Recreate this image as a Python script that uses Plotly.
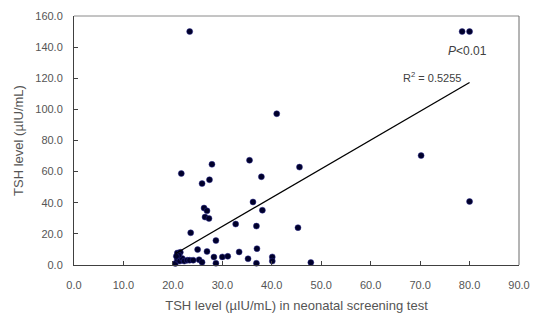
import plotly.graph_objects as go
import numpy as np

# TSH in neonatal screening test (x) vs. follow-up TSH level (y), µIU/mL
screening_tsh = [
    23.4, 78.5, 80.0, 80.0, 70.2, 41.0,
    21.7, 27.9, 25.9, 27.4, 35.5, 37.9, 45.6, 36.2,
    26.3, 26.9, 26.5, 27.3, 38.1, 23.6, 32.7, 36.9, 45.3, 28.7,
    20.9, 21.5, 25.0, 26.9, 28.3, 30.0, 31.1, 33.4, 35.2, 37.0,
    40.1, 40.1, 36.9, 28.7, 47.9, 25.3, 25.9,
    20.5, 20.9, 21.4, 21.9, 22.3, 22.9, 23.4, 24.1, 21.2, 20.7,
]
followup_tsh = [
    150.0, 150.0, 150.0, 40.8, 70.3, 97.2,
    58.8, 64.7, 52.3, 54.8, 67.3, 56.7, 62.9, 40.5,
    36.6, 34.8, 30.8, 29.9, 35.2, 20.7, 26.3, 25.0, 24.0, 15.7,
    7.7, 8.2, 9.9, 8.7, 5.1, 5.2, 5.6, 8.4, 4.0, 10.5,
    5.2, 2.5, 1.1, 1.1, 1.6, 3.4, 1.8,
    1.0, 3.6, 2.5, 4.2, 2.5, 3.1, 3.1, 3.1, 6.3, 5.6,
]

# Linear trend line (y = slope * x + intercept), R² = 0.5255
trend_slope = 1.85
trend_intercept = -30.7
r_squared = 0.5255

x_ticks = [0, 10, 20, 30, 40, 50, 60, 70, 80, 90]
y_ticks = [0, 20, 40, 60, 80, 100, 120, 140, 160]

trend_x = np.array([min(screening_tsh), max(screening_tsh)])
trend_y = trend_slope * trend_x + trend_intercept

fig = go.Figure()
fig.add_trace(go.Scatter(
    x=screening_tsh, y=followup_tsh, mode="markers",
    marker=dict(size=6, color="#00002a", line=dict(color="#2a2a90", width=0.5)),
    showlegend=False, cliponaxis=False,
))
fig.add_trace(go.Scatter(
    x=trend_x, y=trend_y, mode="lines",
    line=dict(color="#000000", width=1.3), showlegend=False,
))

font_family = "Liberation Sans, Arial, sans-serif"
fig.add_annotation(x=72.5, y=121, text=f"R<sup>2</sup> = {r_squared}", showarrow=False,
                   font=dict(family=font_family, size=11, color="#404040"))
fig.add_annotation(x=79.6, y=137.5, text="<i>P</i>&lt;0.01", showarrow=False,
                   font=dict(family=font_family, size=12, color="#404040"))

# top and right frame of the plot area
fig.add_shape(type="line", xref="paper", yref="paper", x0=0, x1=1, y0=1, y1=1,
              line=dict(color="#8a8a8a", width=1))
fig.add_shape(type="line", xref="paper", yref="paper", x0=1, x1=1, y0=0, y1=1,
              line=dict(color="#6a6a6a", width=1))

axis_common = dict(
    showgrid=False, zeroline=False, showline=True, linecolor="#404040", linewidth=1,
    ticks="inside", ticklen=4, tickcolor="#404040", tickformat=".1f",
    tickfont=dict(family=font_family, size=11, color="#555555"),
)
fig.update_xaxes(range=[0, 90], tickvals=x_ticks, ticklabelstandoff=10, **axis_common,
                 title=dict(text="TSH level (µIU/mL) in neonatal screening test",
                            font=dict(family=font_family, size=13, color="#555555"),
                            standoff=10))
fig.update_yaxes(range=[0, 160], tickvals=y_ticks, ticklabelstandoff=8, **axis_common,
                 title=dict(text="TSH level (µIU/mL)",
                            font=dict(family=font_family, size=13, color="#555555"),
                            standoff=8))

fig.update_layout(
    width=540, height=320,
    margin=dict(l=74, r=16, t=10, b=55),
    plot_bgcolor="white", paper_bgcolor="white",
)

fig.write_html("out.html")
